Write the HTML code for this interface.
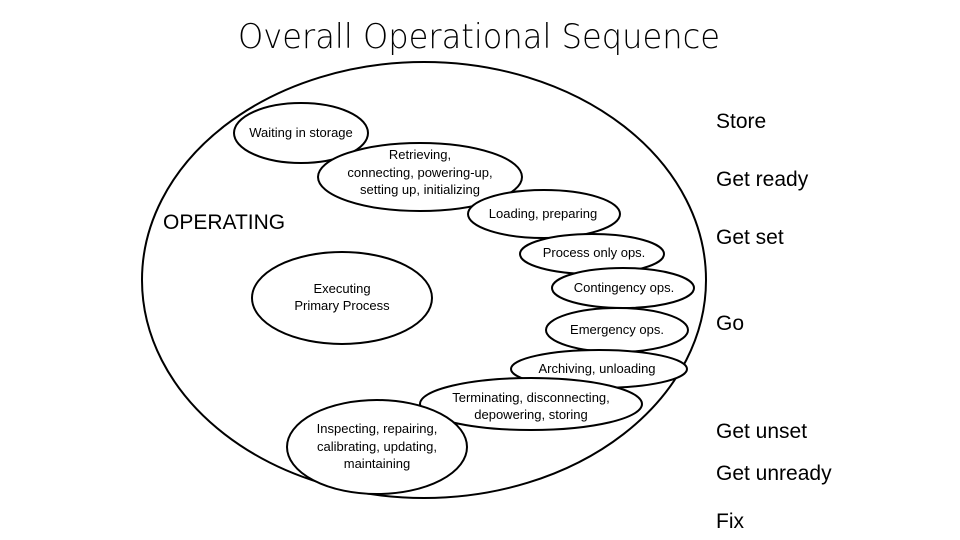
<!DOCTYPE html>
<html><head><meta charset="utf-8"><style>
body{margin:0;background:#fff;}
svg{display:block;}
text{font-family:"Liberation Sans",Arial,sans-serif;fill:#000;}
.s{font-size:13px;text-anchor:middle;}
.r{font-size:21px;}
</style></head><body>
<svg width="960" height="540" viewBox="0 0 960 540" xmlns="http://www.w3.org/2000/svg">
<text x="479" y="48" style="font-size:34px;text-anchor:middle;font-family:'DejaVu Sans','Liberation Sans',sans-serif;font-weight:300" textLength="482" lengthAdjust="spacingAndGlyphs">Overall Operational Sequence</text>
<g fill="none" stroke="#000" stroke-width="2">
<ellipse cx="424" cy="280" rx="282" ry="218"/>
<ellipse cx="301" cy="133" rx="67" ry="30" fill="#fff"/>
<ellipse cx="420" cy="177" rx="102" ry="34" fill="#fff"/>
<ellipse cx="544" cy="214" rx="76" ry="24" fill="#fff"/>
<ellipse cx="592" cy="254" rx="72" ry="20" fill="#fff"/>
<ellipse cx="623" cy="288" rx="71" ry="20" fill="#fff"/>
<ellipse cx="617" cy="330" rx="71" ry="22" fill="#fff"/>
<ellipse cx="599" cy="369" rx="88" ry="19" fill="#fff"/>
<ellipse cx="531" cy="404" rx="111" ry="26" fill="#fff"/>
<ellipse cx="377" cy="447" rx="90" ry="47" fill="#fff"/>
<ellipse cx="342" cy="298" rx="90" ry="46" fill="#fff"/>
</g>
<text class="s" x="301" y="137">Waiting in storage</text>
<text class="s" x="420" y="159">Retrieving,</text>
<text class="s" x="420" y="177">connecting, powering-up,</text>
<text class="s" x="420" y="194">setting up, initializing</text>
<text class="s" x="543" y="218">Loading, preparing</text>
<text class="s" x="594" y="257">Process only ops.</text>
<text class="s" x="624" y="292">Contingency ops.</text>
<text class="s" x="617" y="334">Emergency ops.</text>
<text class="s" x="597" y="373">Archiving, unloading</text>
<text class="s" x="531" y="402">Terminating, disconnecting,</text>
<text class="s" x="531" y="419">depowering, storing</text>
<text class="s" x="377" y="433">Inspecting, repairing,</text>
<text class="s" x="377" y="451">calibrating, updating,</text>
<text class="s" x="377" y="468">maintaining</text>
<text class="s" x="342" y="293">Executing</text>
<text class="s" x="342" y="310">Primary Process</text>
<text x="163" y="229" style="font-size:21px">OPERATING</text>
<text class="r" x="716" y="128">Store</text>
<text class="r" x="716" y="186">Get ready</text>
<text class="r" x="716" y="244">Get set</text>
<text class="r" x="716" y="330">Go</text>
<text class="r" x="716" y="438">Get unset</text>
<text class="r" x="716" y="480">Get unready</text>
<text class="r" x="716" y="528">Fix</text>
</svg>
</body></html>
